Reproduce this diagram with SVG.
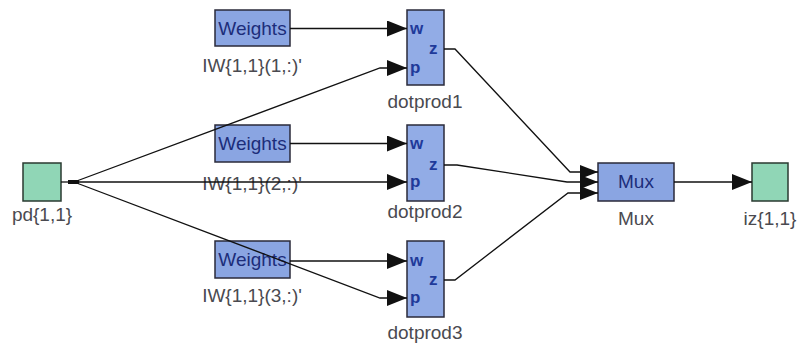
<svg xmlns="http://www.w3.org/2000/svg" width="798" height="344" viewBox="0 0 798 344">
<style>
  .blk{fill:#8aa5e2;stroke:#2a2a3a;stroke-width:1.5}
  .dp{fill:#92acE6;stroke:#2a2a3a;stroke-width:1.5}
  .io{fill:#90d6b6;stroke:#2a3a30;stroke-width:1.5}
  .btxt{font-family:"Liberation Sans",Arial,sans-serif;font-size:19px;fill:#1c2d7a;text-anchor:middle}
  .port{font-family:"Liberation Sans",Arial,sans-serif;font-size:17px;font-weight:bold;fill:#1f3a9a}
  .lbl{font-family:"Liberation Sans",Arial,sans-serif;font-size:19px;fill:#4a4a50;text-anchor:middle}
  .ln{fill:none;stroke:#111;stroke-width:1.3}
</style>
<defs>
  <marker id="ah" markerUnits="userSpaceOnUse" markerWidth="20" markerHeight="16" refX="20" refY="8" orient="auto">
    <path d="M0,0 L20,8 L0,16 z" fill="#111"/>
  </marker>
  <marker id="ahs" markerUnits="userSpaceOnUse" markerWidth="18" markerHeight="14" refX="18" refY="7" orient="auto">
    <path d="M0,0 L18,7 L0,14 z" fill="#111"/>
  </marker>
</defs>

<g id="pd">
  <rect class="io" x="23" y="163" width="38" height="38"/>
  <text class="lbl" x="42" y="221">pd{1,1}</text>
</g>

<g id="weights1">
  <rect class="blk" x="215" y="10" width="75" height="36"/>
  <text class="btxt" x="252.5" y="35">Weights</text>
  <text class="lbl" x="252" y="72">IW{1,1}(1,:)'</text>
</g>
<g id="weights2">
  <rect class="blk" x="215" y="125" width="75" height="37"/>
  <text class="btxt" x="252.5" y="150">Weights</text>
  <text class="lbl" x="252" y="190">IW{1,1}(2,:)'</text>
</g>
<g id="weights3">
  <rect class="blk" x="215" y="241" width="75" height="37"/>
  <text class="btxt" x="252.5" y="266">Weights</text>
  <text class="lbl" x="252" y="302">IW{1,1}(3,:)'</text>
</g>

<g id="dotprod1">
  <rect class="dp" x="407" y="10" width="37" height="75"/>
  <text class="port" x="410" y="34">w</text>
  <text class="port" x="429" y="54">z</text>
  <text class="port" x="410" y="73">p</text>
  <text class="lbl" x="425" y="108">dotprod1</text>
</g>
<g id="dotprod2">
  <rect class="dp" x="407" y="125" width="37" height="76"/>
  <text class="port" x="410" y="149">w</text>
  <text class="port" x="429" y="170">z</text>
  <text class="port" x="410" y="187">p</text>
  <text class="lbl" x="425" y="218">dotprod2</text>
</g>
<g id="dotprod3">
  <rect class="dp" x="407" y="241" width="37" height="76"/>
  <text class="port" x="410" y="266">w</text>
  <text class="port" x="429" y="285">z</text>
  <text class="port" x="410" y="303">p</text>
  <text class="lbl" x="425" y="339">dotprod3</text>
</g>

<g id="mux">
  <rect class="blk" x="598" y="163" width="76" height="38"/>
  <text class="btxt" x="636" y="188">Mux</text>
  <text class="lbl" x="636" y="225">Mux</text>
</g>

<g id="iz">
  <rect class="io" x="752" y="163" width="36" height="38"/>
  <text class="lbl" x="770" y="225">iz{1,1}</text>
</g>

<g id="connectors">
  <line class="ln" x1="290" y1="28.5" x2="407" y2="28.5" marker-end="url(#ah)"/>
  <line class="ln" x1="290" y1="143.5" x2="407" y2="143.5" marker-end="url(#ah)"/>
  <line class="ln" x1="290" y1="261" x2="407" y2="261" marker-end="url(#ah)"/>
  <line class="ln" x1="61" y1="182" x2="72" y2="182"/>
  <rect x="68" y="180" width="11" height="4" fill="#111"/>
  <polyline class="ln" points="74,182 380,68 407,68" marker-end="url(#ah)"/>
  <line class="ln" x1="74" y1="182" x2="407" y2="182" marker-end="url(#ah)"/>
  <polyline class="ln" points="74,182 380,298 407,298" marker-end="url(#ah)"/>
  <polyline class="ln" points="444,49 455,49 570,172 598,172" marker-end="url(#ahs)"/>
  <polyline class="ln" points="444,165 457,165 567,182 598,182" marker-end="url(#ahs)"/>
  <polyline class="ln" points="444,280 455,280 568,193 598,193" marker-end="url(#ahs)"/>
  <line class="ln" x1="674" y1="182" x2="752" y2="182" marker-end="url(#ah)"/>
</g>
</svg>
